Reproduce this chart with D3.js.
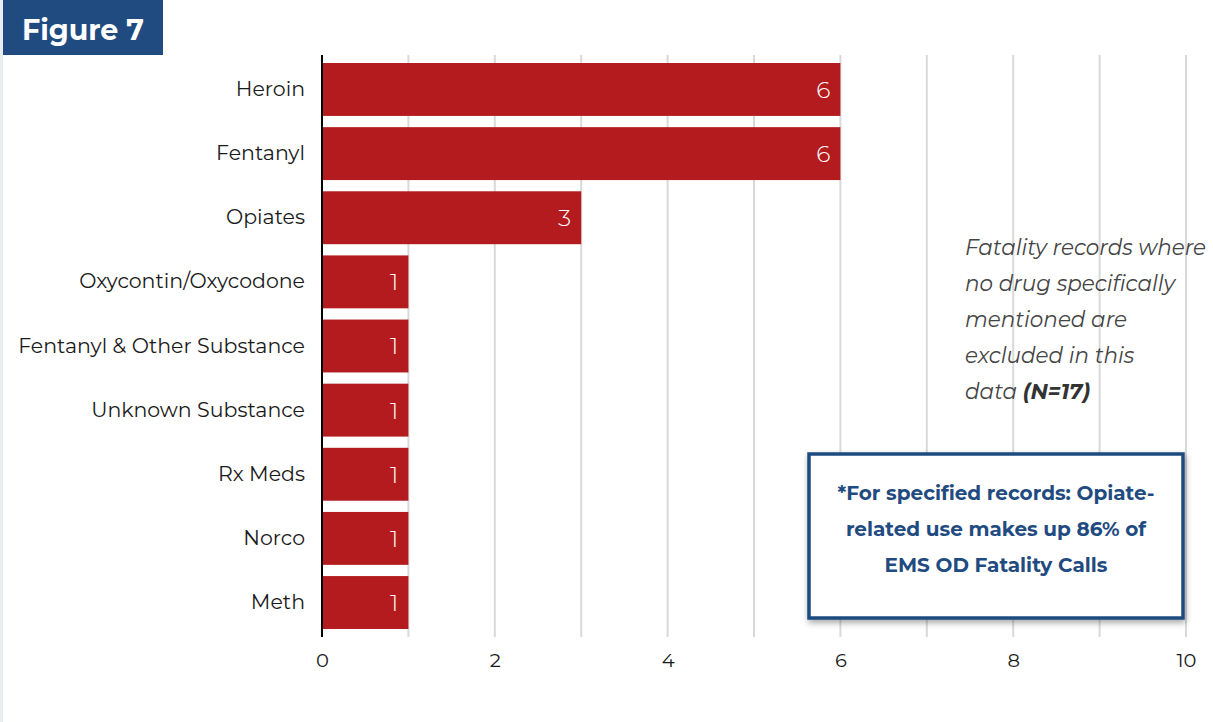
<!DOCTYPE html>
<html>
<head>
<meta charset="utf-8">
<script src="https://cdn.jsdelivr.net/npm/d3@7"></script>
<style>
  html, body { margin: 0; padding: 0; background: #ffffff; }
  svg { display: block; }
</style>
</head>
<body>
<script>
// Drug categories and counts of EMS OD fatality calls
const categories = ["Heroin", "Fentanyl", "Opiates", "Oxycontin/Oxycodone",
  "Fentanyl & Other Substance", "Unknown Substance", "Rx Meds", "Norco", "Meth"];
const counts = [6, 6, 3, 1, 1, 1, 1, 1, 1];
const tickValues = [0, 2, 4, 6, 8, 10];
const gridValues = [1, 2, 3, 4, 5, 6, 7, 8, 9, 10];
const noteLines = ["Fatality records where", "no drug specifically", "mentioned are", "excluded in this"];
const calloutLines = ["*For specified records: Opiate-", "related use makes up 86% of", "EMS OD Fatality Calls"];

const W = 1213, H = 722;
const font = "Montserrat, 'Noto Sans', 'Open Sans', sans-serif";
const navy = "#1f4b80";
const red = "#b31b1e";

const svg = d3.select("body").append("svg").attr("width", W).attr("height", H)
  .style("font-family", font);

const m = { left: 322, right: 1186, top: 55, bottom: 637 };

const x = d3.scaleLinear().domain([0, 10]).range([m.left, m.right]);
const y = d3.scaleBand().domain(categories).range([m.top, m.bottom]).paddingInner(0.175).paddingOuter(0.125);

// thin strip along the left edge
svg.append("rect").attr("x", 0).attr("y", 0).attr("width", 3).attr("height", H).attr("fill", "#e9edf1");

// grid lines
svg.append("g").selectAll("line").data(gridValues).join("line")
  .attr("x1", d => x(d)).attr("x2", d => x(d))
  .attr("y1", m.top).attr("y2", m.bottom)
  .attr("stroke", "#d9d9d9").attr("stroke-width", 2);

// bars
svg.append("g").selectAll("rect").data(categories).join("rect")
  .attr("x", x(0)).attr("y", d => y(d))
  .attr("width", (d, i) => x(counts[i]) - x(0))
  .attr("height", y.bandwidth())
  .attr("fill", red);

// value labels inside the bar ends
svg.append("g").selectAll("text").data(categories).join("text")
  .attr("x", (d, i) => x(counts[i]) - 10)
  .attr("y", d => y(d) + y.bandwidth() / 2)
  .attr("dy", "0.36em")
  .attr("text-anchor", "end")
  .attr("fill", "#ffffff")
  .attr("font-size", 23.5)
  .attr("font-weight", 300)
  .text((d, i) => counts[i]);

// y axis
const yAxis = d3.axisLeft(y).tickSize(0).tickPadding(17);
const gy = svg.append("g").attr("transform", `translate(${m.left},0)`).call(yAxis);
gy.select(".domain").remove();
gy.selectAll("text").attr("font-size", 20.5).attr("fill", "#1a1a1a").style("font-family", font);
svg.append("line").attr("x1", m.left).attr("x2", m.left).attr("y1", m.top).attr("y2", m.bottom)
  .attr("stroke", "#000").attr("stroke-width", 2);

// x axis
const xAxis = d3.axisBottom(x).tickValues(tickValues).tickSize(0).tickPadding(16).tickFormat(d3.format("d"));
const gx = svg.append("g").attr("transform", `translate(0,${m.bottom})`).call(xAxis);
gx.select(".domain").remove();
gx.selectAll("text").attr("font-size", 19.5).attr("fill", "#1a1a1a").style("font-family", font);

// title tab
svg.append("rect").attr("x", 3).attr("y", 0).attr("width", 160).attr("height", 55).attr("fill", navy);
svg.append("text").attr("x", 83).attr("y", 40).attr("text-anchor", "middle")
  .attr("fill", "#fff").attr("font-size", 28.5).attr("font-weight", 700).text("Figure 7");

// side note
const note = svg.append("g").attr("fill", "#444").attr("font-size", 21.5).attr("font-style", "italic");
noteLines.forEach((t, i) => {
  note.append("text").attr("x", 965).attr("y", 255 + i * 36).text(t);
});
const last = note.append("text").attr("x", 965).attr("y", 255 + 4 * 36);
last.append("tspan").text("data ");
last.append("tspan").attr("font-weight", 700).attr("fill", "#333").text("(N=17)");

// callout box
const defs = svg.append("defs");
const f = defs.append("filter").attr("id", "shadow").attr("x", "-10%").attr("y", "-10%").attr("width", "130%").attr("height", "130%");
f.append("feDropShadow").attr("dx", 1).attr("dy", 3).attr("stdDeviation", 3).attr("flood-color", "#000").attr("flood-opacity", 0.35);
svg.append("rect").attr("x", 809).attr("y", 454).attr("width", 374).attr("height", 164)
  .attr("fill", "#fff").attr("stroke", navy).attr("stroke-width", 3.5).attr("filter", "url(#shadow)");
const call = svg.append("g").attr("fill", navy).attr("font-size", 20).attr("font-weight", 700).attr("text-anchor", "middle");
calloutLines.forEach((t, i) => {
  call.append("text").attr("x", 996).attr("y", 500 + i * 36).text(t);
});
</script>
</body>
</html>
